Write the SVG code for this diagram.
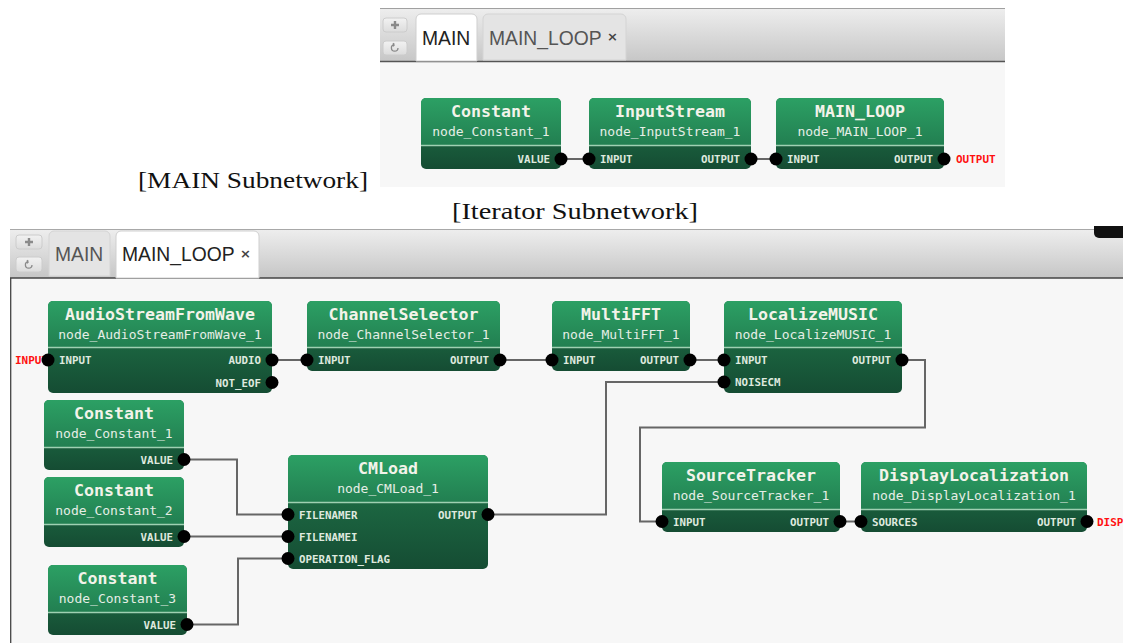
<svg xmlns="http://www.w3.org/2000/svg" width="1123" height="643" viewBox="0 0 1123 643">
  <style>
    .hdr { fill: url(#gHdr); }
    .body { fill: url(#gBody); }
    .sep { stroke: #9fd0b2; stroke-width: 1.5; }
    .title { font-family: "DejaVu Sans Mono", "Liberation Mono", monospace; font-weight: bold; font-size: 16.6px; fill: #f3f3ea; text-anchor: middle; }
    .sub { font-family: "DejaVu Sans Mono", "Liberation Mono", monospace; font-size: 13px; fill: #e6eee6; text-anchor: middle; }
    .pl { font-family: "DejaVu Sans Mono", "Liberation Mono", monospace; font-weight: bold; font-size: 10.8px; fill: #dfe9df; }
    .pr { font-family: "DejaVu Sans Mono", "Liberation Mono", monospace; font-weight: bold; font-size: 10.8px; fill: #dfe9df; text-anchor: end; }
    .ext { font-family: "DejaVu Sans Mono", "Liberation Mono", monospace; font-weight: bold; font-size: 11px; fill: #ff1010; }
    .port { fill: #000; }
    .wire { fill: none; stroke: #666; stroke-width: 2; }
    .bar { fill: url(#gBar); }
    .canvas { fill: #f7f7f7; }
    .tabOn { fill: #ffffff; stroke: #cfcfcf; stroke-width: 1; }
    .tabOff { fill: #e4e4e4; stroke: #d4d4d4; stroke-width: 1; }
    .tabTxtOn { font-family: "Liberation Sans", Arial, sans-serif; font-size: 19.3px; fill: #222; }
    .tabTxtOff { font-family: "Liberation Sans", Arial, sans-serif; font-size: 19.3px; fill: #555; }
    .close { font-family: "DejaVu Sans", sans-serif; font-weight: bold; font-size: 13px; fill: #444; }
    .btn { fill: url(#gBtn); stroke: #cccccc; stroke-width: 1; }
    .icon { fill: none; stroke: #8a8a8a; stroke-width: 1.3; }
    .caption { font-family: "Liberation Serif", "Times New Roman", serif; font-size: 24px; fill: #111; }
  </style>
  <defs>
    <linearGradient id="gHdr" x1="0" y1="0" x2="0" y2="1">
      <stop offset="0" stop-color="#2ca064"/>
      <stop offset="1" stop-color="#227f51"/>
    </linearGradient>
    <linearGradient id="gBody" x1="0" y1="0" x2="0" y2="1">
      <stop offset="0" stop-color="#217a4c"/>
      <stop offset="1" stop-color="#154c33"/>
    </linearGradient>
    <linearGradient id="gBar" x1="0" y1="0" x2="0" y2="1">
      <stop offset="0" stop-color="#eeeeee"/>
      <stop offset="1" stop-color="#c6c6c6"/>
    </linearGradient>
    <linearGradient id="gBtn" x1="0" y1="0" x2="0" y2="1">
      <stop offset="0" stop-color="#f2f2f2"/>
      <stop offset="1" stop-color="#dcdcdc"/>
    </linearGradient>
  </defs>

  <rect width="1123" height="643" fill="#ffffff"/>

  <!-- ===== MAIN editor panel ===== -->
  <g id="panel-main">
    <rect x="380" y="8" width="625" height="54" class="bar"/>
    <line x1="380" y1="8.5" x2="1005" y2="8.5" stroke="#a0a0a0" stroke-width="1"/>
    <rect x="380" y="62" width="625" height="125" class="canvas"/>
    <line x1="380" y1="61.5" x2="1005" y2="61.5" stroke="#555" stroke-width="1.5"/>
    <rect x="383" y="18" width="24" height="14" rx="3" class="btn"/>
    <path d="M395,21 V29 M391,25 H399" stroke="#8a8a8a" stroke-width="2.4"/>
    <rect x="383" y="41" width="24" height="14" rx="3" class="btn"/>
    <path d="M398,48 A3.3,3.3 0 1 1 394.5,44.6 M394.5,44.6 l-1.6,-1.4 M394.5,44.6 l-1.4,1.7" class="icon"/>
    <path d="M416,61 V19 A5,5 0 0 1 421,14 H472 A5,5 0 0 1 477,19 V61 Z" class="tabOn"/>
    <text x="422" y="45" class="tabTxtOn">MAIN</text>
    <path d="M483,60 V19 A5,5 0 0 1 488,14 H621 A5,5 0 0 1 626,19 V60 Z" class="tabOff"/>
    <text x="489" y="45" class="tabTxtOff">MAIN_LOOP</text>
    <text x="607" y="41" class="close">×</text>
  </g>

  <g id="main-connectors">
    <path d="M561,159 H589" class="wire"/>
    <path d="M751,159 H776" class="wire"/>
  </g>

  <g id="main-constant">
    <rect x="421" y="98" width="140" height="71" rx="5" class="body"/>
    <path d="M421,145 V103 A5,5 0 0 1 426,98 H556 A5,5 0 0 1 561,103 V145 Z" class="hdr"/>
    <line x1="421" y1="145.5" x2="561" y2="145.5" class="sep"/>
    <text x="491" y="117" class="title">Constant</text>
    <text x="491" y="136" class="sub">node_Constant_1</text>
    <text x="550" y="163" class="pr">VALUE</text>
    <circle cx="561" cy="159" r="6.5" class="port"/>
  </g>

  <g id="main-inputstream">
    <rect x="589" y="98" width="162" height="71" rx="5" class="body"/>
    <path d="M589,145 V103 A5,5 0 0 1 594,98 H746 A5,5 0 0 1 751,103 V145 Z" class="hdr"/>
    <line x1="589" y1="145.5" x2="751" y2="145.5" class="sep"/>
    <text x="670" y="117" class="title">InputStream</text>
    <text x="670" y="136" class="sub">node_InputStream_1</text>
    <text x="600" y="163" class="pl">INPUT</text>
    <text x="740" y="163" class="pr">OUTPUT</text>
    <circle cx="589" cy="159" r="6.5" class="port"/>
    <circle cx="751" cy="159" r="6.5" class="port"/>
  </g>

  <g id="main-mainloop">
    <rect x="776" y="98" width="168" height="71" rx="5" class="body"/>
    <path d="M776,145 V103 A5,5 0 0 1 781,98 H939 A5,5 0 0 1 944,103 V145 Z" class="hdr"/>
    <line x1="776" y1="145.5" x2="944" y2="145.5" class="sep"/>
    <text x="860" y="117" class="title">MAIN_LOOP</text>
    <text x="860" y="136" class="sub">node_MAIN_LOOP_1</text>
    <text x="787" y="163" class="pl">INPUT</text>
    <text x="933" y="163" class="pr">OUTPUT</text>
    <circle cx="776" cy="159" r="6.5" class="port"/>
    <circle cx="944" cy="159" r="6.5" class="port"/>
    <text x="956" y="163" class="ext">OUTPUT</text>
  </g>

  <!-- captions -->
  <text x="138" y="188" class="caption" textLength="230" lengthAdjust="spacingAndGlyphs">[MAIN Subnetwork]</text>
  <text x="452" y="219" class="caption" textLength="246" lengthAdjust="spacingAndGlyphs">[Iterator Subnetwork]</text>

  <!-- ===== MAIN_LOOP editor panel ===== -->
  <g id="panel-loop">
    <rect x="10" y="229" width="1113" height="49" class="bar"/>
    <line x1="10" y1="229.5" x2="1123" y2="229.5" stroke="#a8a8a8" stroke-width="1"/>
    <rect x="10" y="278" width="1113" height="365" class="canvas"/>
    <line x1="10" y1="278" x2="1123" y2="278" stroke="#444" stroke-width="1.5"/>
    <line x1="10.7" y1="278" x2="10.7" y2="643" stroke="#444" stroke-width="1.3"/>
    <rect x="16" y="235" width="26" height="14" rx="3" class="btn"/>
    <path d="M29,238 V246 M25,242 H33" stroke="#8a8a8a" stroke-width="2.4"/>
    <rect x="16" y="257" width="26" height="15" rx="3" class="btn"/>
    <path d="M32,265 A3.3,3.3 0 1 1 28.5,261.6 M28.5,261.6 l-1.6,-1.4 M28.5,261.6 l-1.4,1.7" class="icon"/>
    <path d="M49,276 V236 A5,5 0 0 1 54,231 H105 A5,5 0 0 1 110,236 V276 Z" class="tabOff"/>
    <text x="55" y="261" class="tabTxtOff">MAIN</text>
    <path d="M116,278 V236 A5,5 0 0 1 121,231 H254 A5,5 0 0 1 259,236 V278 Z" class="tabOn"/>
    <text x="122" y="261" class="tabTxtOn">MAIN_LOOP</text>
    <text x="240" y="258" class="close">×</text>
    <path d="M1123,226 H1094 V233 A5,5 0 0 0 1099,238 H1123 Z" fill="#111"/>
  </g>

  <g id="loop-connectors">
    <path d="M272,360 H307" class="wire"/>
    <path d="M500,360 H552" class="wire"/>
    <path d="M690,360 H724" class="wire"/>
    <path d="M488,514.5 H606 V382 H724" class="wire"/>
    <path d="M902,360 H925 V427.5 H640 V521.5 H662" class="wire"/>
    <path d="M840,521.5 H861" class="wire"/>
    <path d="M184,459.5 H237 V514.5 H288" class="wire"/>
    <path d="M184,536.5 H288" class="wire"/>
    <path d="M187,624.5 H238 V558.5 H288" class="wire"/>
  </g>

  <g id="node-audiostreamfromwave">
    <rect x="48" y="301" width="224" height="92" rx="5" class="body"/>
    <path d="M48,347 V306 A5,5 0 0 1 53,301 H267 A5,5 0 0 1 272,306 V347 Z" class="hdr"/>
    <line x1="48" y1="347.5" x2="272" y2="347.5" class="sep"/>
    <text x="160" y="320" class="title">AudioStreamFromWave</text>
    <text x="160" y="339" class="sub">node_AudioStreamFromWave_1</text>
    <text x="59" y="364" class="pl">INPUT</text>
    <text x="261" y="364" class="pr">AUDIO</text>
    <text x="261" y="386.5" class="pr">NOT_EOF</text>
    <text x="15" y="364" class="ext">INPUT</text>
    <circle cx="48" cy="360" r="6.5" class="port"/>
    <circle cx="272" cy="360" r="6.5" class="port"/>
    <circle cx="272" cy="382.5" r="6.5" class="port"/>
  </g>

  <g id="node-channelselector">
    <rect x="307" y="301" width="193" height="70" rx="5" class="body"/>
    <path d="M307,347 V306 A5,5 0 0 1 312,301 H495 A5,5 0 0 1 500,306 V347 Z" class="hdr"/>
    <line x1="307" y1="347.5" x2="500" y2="347.5" class="sep"/>
    <text x="403.5" y="320" class="title">ChannelSelector</text>
    <text x="403.5" y="339" class="sub">node_ChannelSelector_1</text>
    <text x="318" y="364" class="pl">INPUT</text>
    <text x="489" y="364" class="pr">OUTPUT</text>
    <circle cx="307" cy="360" r="6.5" class="port"/>
    <circle cx="500" cy="360" r="6.5" class="port"/>
  </g>

  <g id="node-multifft">
    <rect x="552" y="301" width="138" height="70" rx="5" class="body"/>
    <path d="M552,347 V306 A5,5 0 0 1 557,301 H685 A5,5 0 0 1 690,306 V347 Z" class="hdr"/>
    <line x1="552" y1="347.5" x2="690" y2="347.5" class="sep"/>
    <text x="621" y="320" class="title">MultiFFT</text>
    <text x="621" y="339" class="sub">node_MultiFFT_1</text>
    <text x="563" y="364" class="pl">INPUT</text>
    <text x="679" y="364" class="pr">OUTPUT</text>
    <circle cx="552" cy="360" r="6.5" class="port"/>
    <circle cx="690" cy="360" r="6.5" class="port"/>
  </g>

  <g id="node-localizemusic">
    <rect x="724" y="301" width="178" height="92" rx="5" class="body"/>
    <path d="M724,347 V306 A5,5 0 0 1 729,301 H897 A5,5 0 0 1 902,306 V347 Z" class="hdr"/>
    <line x1="724" y1="347.5" x2="902" y2="347.5" class="sep"/>
    <text x="813" y="320" class="title">LocalizeMUSIC</text>
    <text x="813" y="339" class="sub">node_LocalizeMUSIC_1</text>
    <text x="735" y="364" class="pl">INPUT</text>
    <text x="735" y="386" class="pl">NOISECM</text>
    <text x="891" y="364" class="pr">OUTPUT</text>
    <circle cx="724" cy="360" r="6.5" class="port"/>
    <circle cx="724" cy="382" r="6.5" class="port"/>
    <circle cx="902" cy="360" r="6.5" class="port"/>
  </g>

  <g id="node-constant-1">
    <rect x="44" y="400" width="140" height="70" rx="5" class="body"/>
    <path d="M44,447 V405 A5,5 0 0 1 49,400 H179 A5,5 0 0 1 184,405 V447 Z" class="hdr"/>
    <line x1="44" y1="447.5" x2="184" y2="447.5" class="sep"/>
    <text x="114" y="419" class="title">Constant</text>
    <text x="114" y="438" class="sub">node_Constant_1</text>
    <text x="173" y="463.5" class="pr">VALUE</text>
    <circle cx="184" cy="459.5" r="6.5" class="port"/>
  </g>

  <g id="node-constant-2">
    <rect x="44" y="477" width="140" height="70" rx="5" class="body"/>
    <path d="M44,524 V482 A5,5 0 0 1 49,477 H179 A5,5 0 0 1 184,482 V524 Z" class="hdr"/>
    <line x1="44" y1="524.5" x2="184" y2="524.5" class="sep"/>
    <text x="114" y="496" class="title">Constant</text>
    <text x="114" y="515" class="sub">node_Constant_2</text>
    <text x="173" y="540.5" class="pr">VALUE</text>
    <circle cx="184" cy="536.5" r="6.5" class="port"/>
  </g>

  <g id="node-constant-3">
    <rect x="48" y="565" width="139" height="70" rx="5" class="body"/>
    <path d="M48,612 V570 A5,5 0 0 1 53,565 H182 A5,5 0 0 1 187,570 V612 Z" class="hdr"/>
    <line x1="48" y1="612.5" x2="187" y2="612.5" class="sep"/>
    <text x="117.5" y="584" class="title">Constant</text>
    <text x="117.5" y="603" class="sub">node_Constant_3</text>
    <text x="176" y="628.5" class="pr">VALUE</text>
    <circle cx="187" cy="624.5" r="6.5" class="port"/>
  </g>

  <g id="node-cmload">
    <rect x="288" y="455" width="200" height="114" rx="5" class="body"/>
    <path d="M288,502 V460 A5,5 0 0 1 293,455 H483 A5,5 0 0 1 488,460 V502 Z" class="hdr"/>
    <line x1="288" y1="502.5" x2="488" y2="502.5" class="sep"/>
    <text x="388" y="474" class="title">CMLoad</text>
    <text x="388" y="493" class="sub">node_CMLoad_1</text>
    <text x="299" y="518.5" class="pl">FILENAMER</text>
    <text x="299" y="540.5" class="pl">FILENAMEI</text>
    <text x="299" y="562.5" class="pl">OPERATION_FLAG</text>
    <text x="477" y="518.5" class="pr">OUTPUT</text>
    <circle cx="288" cy="514.5" r="6.5" class="port"/>
    <circle cx="288" cy="536.5" r="6.5" class="port"/>
    <circle cx="288" cy="558.5" r="6.5" class="port"/>
    <circle cx="488" cy="514.5" r="6.5" class="port"/>
  </g>

  <g id="node-sourcetracker">
    <rect x="662" y="462" width="178" height="70" rx="5" class="body"/>
    <path d="M662,509 V467 A5,5 0 0 1 667,462 H835 A5,5 0 0 1 840,467 V509 Z" class="hdr"/>
    <line x1="662" y1="509.5" x2="840" y2="509.5" class="sep"/>
    <text x="751" y="481" class="title">SourceTracker</text>
    <text x="751" y="500" class="sub">node_SourceTracker_1</text>
    <text x="673" y="525.5" class="pl">INPUT</text>
    <text x="829" y="525.5" class="pr">OUTPUT</text>
    <circle cx="662" cy="521.5" r="6.5" class="port"/>
    <circle cx="840" cy="521.5" r="6.5" class="port"/>
  </g>

  <g id="node-displaylocalization">
    <rect x="861" y="462" width="226" height="70" rx="5" class="body"/>
    <path d="M861,509 V467 A5,5 0 0 1 866,462 H1082 A5,5 0 0 1 1087,467 V509 Z" class="hdr"/>
    <line x1="861" y1="509.5" x2="1087" y2="509.5" class="sep"/>
    <text x="974" y="481" class="title">DisplayLocalization</text>
    <text x="974" y="500" class="sub">node_DisplayLocalization_1</text>
    <text x="872" y="525.5" class="pl">SOURCES</text>
    <text x="1076" y="525.5" class="pr">OUTPUT</text>
    <circle cx="861" cy="521.5" r="6.5" class="port"/>
    <circle cx="1087" cy="521.5" r="6.5" class="port"/>
    <text x="1097" y="525.5" class="ext">DISP</text>
  </g>
</svg>
